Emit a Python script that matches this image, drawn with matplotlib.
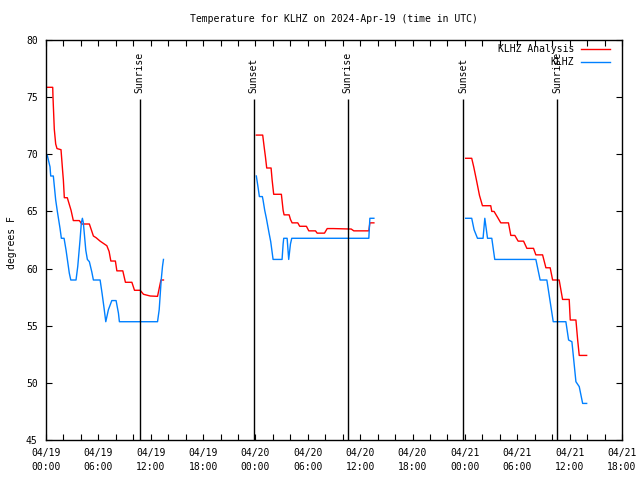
import numpy as np
import pandas as pd
import matplotlib
matplotlib.use("Agg")
import matplotlib.pyplot as plt
from matplotlib.dates import HourLocator, DateFormatter

plt.rcParams['font.family'] = ['DejaVu Sans Mono']
plt.rcParams['font.size'] = 7

base = pd.Timestamp('2024-04-19 00:00')

# hours after 04/19 00:00 UTC, temperatures in F; one block per data run
analysis_hours = [
    [0.08, 0.77, 0.80, 0.95, 1.11, 1.26, 1.72, 1.92, 1.99, 2.10, 2.44, 2.87, 3.13, 3.82,
     4.10, 4.97, 5.43, 5.74, 6.20, 6.97, 7.23, 7.43, 7.95, 8.12, 8.80, 9.10, 9.84, 10.14,
     10.79, 11.17, 11.94, 12.78, 13.17, 13.46],
    [24.10, 24.83, 25.02, 25.14, 25.29, 25.79, 25.91, 26.09, 26.97, 27.17, 27.28, 27.86,
     28.01, 28.20, 28.85, 29.07, 29.84, 30.11, 30.88, 31.07, 31.91, 32.22, 32.91, 34.97,
     35.27, 36.99, 37.11, 37.57],
    [48.09, 48.78, 49.01, 49.32, 49.67, 50.01, 50.96, 51.08, 51.34, 51.73, 52.11, 52.99,
     53.26, 53.72, 54.10, 54.72, 55.10, 55.86, 56.13, 56.90, 57.28, 57.77, 58.05, 58.80,
     59.19, 59.95, 60.07, 60.72, 60.92, 61.10, 61.95],
]
analysis_temp = [
    [75.86, 75.86, 75.03, 72.2, 70.9, 70.5, 70.4, 68.4, 67.75, 66.2, 66.2, 65.1, 64.2, 64.2,
     63.9, 63.9, 62.85, 62.7, 62.4, 62.0, 61.5, 60.66, 60.66, 59.8, 59.8, 58.8, 58.8, 58.1,
     58.1, 57.75, 57.6, 57.57, 59.0, 59.0],
    [71.68, 71.68, 70.5, 69.8, 68.8, 68.8, 67.75, 66.5, 66.5, 65.1, 64.7, 64.7,
     64.3, 64.0, 64.0, 63.7, 63.7, 63.3, 63.3, 63.1, 63.1, 63.5, 63.5, 63.46,
     63.3, 63.3, 64.0, 64.0],
    [69.65, 69.65, 68.9, 67.75, 66.4, 65.5, 65.5, 65.0, 65.0, 64.5, 64.0, 64.0,
     62.9, 62.9, 62.4, 62.4, 61.77, 61.77, 61.2, 61.2, 60.07, 60.07, 59.0, 59.0,
     57.3, 57.3, 55.5, 55.5, 53.75, 52.4, 52.4],
]

station_hours = [
    [0.15, 0.46, 0.54, 0.84, 1.11, 1.30, 1.61, 1.76, 2.07, 2.30, 2.67, 2.84, 3.44, 3.64,
     3.90, 4.05, 4.17, 4.28, 4.56, 4.74, 4.97, 5.25, 5.43, 6.20, 6.43, 6.66, 6.85, 7.15,
     7.54, 8.03, 8.30, 8.41, 12.78, 12.97, 13.20, 13.35, 13.46],
    [24.10, 24.30, 24.45, 24.79, 24.87, 25.06, 25.25, 25.56, 25.75, 26.02, 27.05, 27.17,
     27.24, 27.63, 27.81, 28.01, 28.16, 36.99, 37.11, 37.57],
    [48.09, 48.78, 49.05, 49.44, 50.08, 50.28, 50.59, 51.08, 51.42, 56.13, 56.62, 57.39,
     58.12, 59.57, 59.88, 60.26, 60.72, 61.10, 61.49, 61.95],
]
station_temp = [
    [69.9, 68.9, 68.1, 68.1, 66.0, 65.0, 63.5, 62.65, 62.65, 61.6, 59.6, 59.0, 59.0, 60.2,
     62.5, 64.0, 64.4, 64.0, 61.6, 60.8, 60.6, 59.7, 59.0, 59.0, 57.8, 56.5, 55.35, 56.4,
     57.2, 57.2, 56.1, 55.35, 55.35, 56.4, 59.0, 60.2, 60.8],
    [68.1, 67.1, 66.3, 66.3, 66.0, 65.1, 64.4, 63.1, 62.35, 60.8, 60.8, 62.15,
     62.65, 62.65, 60.8, 62.15, 62.65, 62.65, 64.4, 64.4],
    [64.4, 64.4, 63.4, 62.65, 62.65, 64.4, 62.65, 62.65, 60.8, 60.8, 59.0, 59.0,
     55.35, 55.35, 53.75, 53.6, 50.1, 49.67, 48.2, 48.2],
]

sun_times = ['2024-04-19 10:43', '2024-04-19 23:48', '2024-04-20 10:35',
             '2024-04-20 23:47', '2024-04-21 10:34']
sun_labels = ['Sunrise', 'Sunset', 'Sunrise', 'Sunset', 'Sunrise']


def to_time(hours):
    return base + pd.to_timedelta(np.array(hours), unit='h')


fig = plt.figure(figsize=(6.4, 4.8), dpi=100)
ax = fig.add_axes([46 / 640, 40 / 480, 576 / 640, 400 / 480])

for i, (h, t) in enumerate(zip(analysis_hours, analysis_temp)):
    ax.plot(to_time(h), t, color='#ff0000', lw=1.0,
            label='KLHZ Analysis' if i == 0 else None)
for i, (h, t) in enumerate(zip(station_hours, station_temp)):
    ax.plot(to_time(h), t, color='#0080ff', lw=1.0,
            label='KLHZ' if i == 0 else None)

for st, lab in zip(sun_times, sun_labels):
    ts = pd.Timestamp(st)
    ax.vlines(ts, 45, 74.8, color='black', lw=1.0)
    ax.text(ts, 75.4, lab, rotation=90, ha='center', va='bottom')

ax.set_xlim(base, pd.Timestamp('2024-04-21 18:00'))
ax.set_ylim(45, 80)
ax.set_yticks(np.arange(45, 81, 5))

ax.xaxis.set_major_locator(HourLocator(byhour=range(0, 24, 6)))
ax.xaxis.set_minor_locator(HourLocator(byhour=range(0, 24, 2)))
ax.xaxis.set_major_formatter(DateFormatter('%m/%d\n%H:%M'))
ax.tick_params(which='both', direction='in', top=True, right=True, length=4, width=0.8)
ax.tick_params(axis='x', pad=6)
ax.tick_params(axis='y', pad=6)
for lbl in ax.get_xticklabels():
    lbl.set_linespacing(1.45)
for sp in ax.spines.values():
    sp.set_linewidth(1.0)

# legend sits over the last sunrise label, as in the original
ax.legend(loc='upper right', bbox_to_anchor=((610 - 46) / 576, (440 - 44) / 400),
          frameon=False, markerfirst=False, handlelength=3.0, handletextpad=0.7,
          borderpad=0, borderaxespad=0, labelspacing=0.35)

fig.text(334 / 640, 1 - 19 / 480, 'Temperature for KLHZ on 2024-Apr-19 (time in UTC)',
         ha='center', va='center')
fig.text(12 / 640, 1 - 243 / 480, 'degrees F', rotation=90, ha='center', va='center')

plt.savefig('out.png', dpi=100)
